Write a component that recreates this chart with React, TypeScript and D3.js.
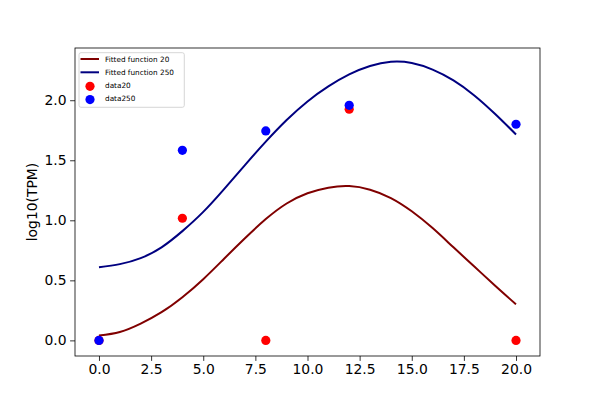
import { axisBottom, axisLeft, curveNatural, line, scaleLinear, select } from 'd3';
import { useEffect, useRef } from 'react';

// sample times of the measurements
const times = [0, 4, 8, 12, 20];
const data20 = [0, 1.017, 0, 1.925, 0];
const data250 = [0, 1.583, 1.744, 1.958, 1.8];

const fitX = [0, 1, 2, 3, 4, 5, 6, 7, 8, 9, 10, 11, 12, 13, 14, 15, 16, 17, 18, 19, 20];
const fit20 = [0.04, 0.07, 0.14, 0.235, 0.36, 0.51, 0.68, 0.85, 1.01, 1.14, 1.225, 1.272, 1.285, 1.255, 1.185, 1.075, 0.935, 0.775, 0.615, 0.455, 0.3];
const fit250 = [0.61, 0.635, 0.685, 0.775, 0.91, 1.07, 1.26, 1.46, 1.655, 1.835, 1.99, 2.115, 2.215, 2.285, 2.32, 2.31, 2.255, 2.165, 2.04, 1.885, 1.715];

const xTicks = [0, 2.5, 5, 7.5, 10, 12.5, 15, 17.5, 20];
const yTicks = [0, 0.5, 1, 1.5, 2];

const W = 600;
const H = 400;
const margin = { top: 48, right: 60, bottom: 44, left: 75 };
const font = 'DejaVu Sans, sans-serif';

const App = () => {
  const svgRef = useRef(null);

  useEffect(() => {
    const innerW = W - margin.left - margin.right;
    const innerH = H - margin.top - margin.bottom;

    const xScale = scaleLinear().domain([-1.15, 21.15]).range([0, innerW]);
    const yScale = scaleLinear().domain([-0.13, 2.435]).range([innerH, 0]);

    const svgEl = select(svgRef.current);
    svgEl.selectAll('*').remove();
    svgEl.append('rect').attr('width', W).attr('height', H).attr('fill', 'white');

    const svg = svgEl.append('g').attr('transform', `translate(${margin.left},${margin.top})`);

    const xAxis = axisBottom(xScale)
      .tickValues(xTicks)
      .tickSize(4.9)
      .tickPadding(3.5)
      .tickFormat((v) => Number(v).toFixed(1));
    const xg = svg.append('g').attr('transform', `translate(0,${innerH})`).call(xAxis);
    xg.select('.domain').remove();
    xg.selectAll('line').attr('stroke', 'black').attr('stroke-width', 0.8);
    xg.selectAll('text').attr('fill', 'black').attr('font-size', 13.9).attr('font-family', font);

    const yAxis = axisLeft(yScale)
      .tickValues(yTicks)
      .tickSize(4.9)
      .tickPadding(3.5)
      .tickFormat((v) => Number(v).toFixed(1));
    const yg = svg.append('g').call(yAxis);
    yg.select('.domain').remove();
    yg.selectAll('line').attr('stroke', 'black').attr('stroke-width', 0.8);
    yg.selectAll('text').attr('fill', 'black').attr('font-size', 13.9).attr('font-family', font);

    svg
      .append('text')
      .attr('transform', `translate(${32 - margin.left},${innerH / 2}) rotate(-90)`)
      .attr('text-anchor', 'middle')
      .attr('dy', '0.35em')
      .attr('font-size', 13.9)
      .attr('font-family', font)
      .text('log10(TPM)');

    const fitLine = line<number>()
      .x((_, i) => xScale(fitX[i]))
      .y((d) => yScale(d))
      .curve(curveNatural);

    const curves = [
      { values: fit20, color: '#800000' },
      { values: fit250, color: '#000080' },
    ];
    svg
      .selectAll('.fit')
      .data(curves)
      .enter()
      .append('path')
      .attr('fill', 'none')
      .attr('stroke', (d) => d.color)
      .attr('stroke-width', 2)
      .attr('d', (d) => fitLine(d.values));

    const dots = [
      { values: data20, color: 'red' },
      { values: data250, color: 'blue' },
    ];
    dots.forEach((s) => {
      svg
        .selectAll(null)
        .data(s.values)
        .enter()
        .append('circle')
        .attr('cx', (_, i) => xScale(times[i]))
        .attr('cy', (d) => yScale(d))
        .attr('r', 4.6)
        .attr('fill', s.color);
    });

    svg
      .append('rect')
      .attr('width', innerW)
      .attr('height', innerH)
      .attr('fill', 'none')
      .attr('stroke', 'black')
      .attr('stroke-width', 0.8);

    // legend
    const legend = svg.append('g').attr('transform', 'translate(4,4.7)');
    legend
      .append('rect')
      .attr('width', 105.3)
      .attr('height', 54.6)
      .attr('rx', 2)
      .attr('fill', 'white')
      .attr('fill-opacity', 0.8)
      .attr('stroke', '#cccccc')
      .attr('stroke-width', 0.8);

    const items = [
      { label: 'Fitted function 20', color: '#800000', kind: 'line' },
      { label: 'Fitted function 250', color: '#000080', kind: 'line' },
      { label: 'data20', color: 'red', kind: 'dot' },
      { label: 'data250', color: 'blue', kind: 'dot' },
    ];
    items.forEach((item, i) => {
      const yy = 6.3 + i * 13.3;
      if (item.kind === 'line') {
        legend
          .append('line')
          .attr('x1', 1.5)
          .attr('x2', 20)
          .attr('y1', yy)
          .attr('y2', yy)
          .attr('stroke', item.color)
          .attr('stroke-width', 2);
      } else {
        legend.append('circle').attr('cx', 11).attr('cy', yy + 0.7).attr('r', 4.6).attr('fill', item.color);
      }
      legend
        .append('text')
        .attr('x', 26)
        .attr('y', yy)
        .attr('dy', '0.35em')
        .attr('font-size', 7.3)
        .attr('font-family', font)
        .text(item.label);
    });
  }, []);

  return <svg ref={svgRef} width={W} height={H} style={{ position: 'absolute', left: 0, top: 0 }} />;
};

export default App;
